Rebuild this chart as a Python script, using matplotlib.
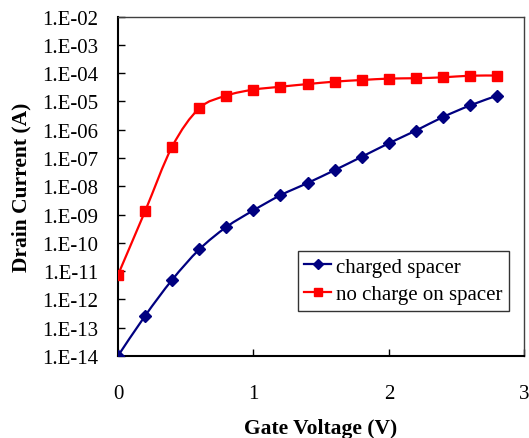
import numpy as np
import matplotlib
matplotlib.use("Agg")
import matplotlib.pyplot as plt
from matplotlib.path import Path
from matplotlib.patches import PathPatch
from matplotlib.lines import Line2D
from matplotlib.ticker import FixedLocator, FuncFormatter, NullLocator

# gate voltage sweep (V)
gate_v = [0.0, 0.2, 0.4, 0.6, 0.8, 1.0, 1.2, 1.4, 1.6, 1.8, 2.0, 2.2, 2.4, 2.6, 2.8]

# drain current (A)
charged_spacer = [1.0e-14, 2.6e-13, 4.9e-12, 5.8e-11, 3.6e-10, 1.4e-9, 4.8e-9,
                  1.3e-8, 3.7e-8, 1.1e-7, 3.3e-7, 9.3e-7, 2.8e-6, 7.2e-6, 1.6e-5]
no_charge = [7.3e-12, 1.3e-9, 2.5e-7, 5.7e-6, 1.6e-5, 2.6e-5, 3.3e-5,
             4.1e-5, 5.0e-5, 5.7e-5, 6.4e-5, 6.6e-5, 7.1e-5, 8.1e-5, 8.2e-5]

labels = ["charged spacer", "no charge on spacer"]
y_ticks = [1e-14, 1e-13, 1e-12, 1e-11, 1e-10, 1e-9, 1e-8, 1e-7,
           1e-6, 1e-5, 1e-4, 1e-3, 1e-2]

plt.rcParams['font.family'] = ['Liberation Serif', 'DejaVu Serif']


def smooth_path(xs, ys):
    # Excel-style smoothed line: cubic bezier through the points, in (x, log y) space
    px = np.asarray(xs, float)
    py = np.log10(np.asarray(ys, float))
    n = len(px)
    verts = [(px[0], py[0])]
    codes = [Path.MOVETO]
    for i in range(n - 1):
        a = max(i - 1, 0)
        b = min(i + 2, n - 1)
        c1 = (px[i] + (px[i + 1] - px[a]) / 6, py[i] + (py[i + 1] - py[a]) / 6)
        c2 = (px[i + 1] - (px[b] - px[i]) / 6, py[i + 1] - (py[b] - py[i]) / 6)
        verts += [c1, c2, (px[i + 1], py[i + 1])]
        codes += [Path.CURVE4] * 3
    verts = [(x, 10 ** y) for x, y in verts]
    return Path(verts, codes)


fig = plt.figure(figsize=(5.29, 4.39), dpi=100)
ax = fig.add_axes([0.223, 0.187, 0.768, 0.773])
ax.set_yscale('log')

series = [
    (charged_spacer, '#000080', 'D', 6.5),
    (no_charge, '#FF0000', 's', 7.5),
]
handles = []
for (vals, col, mk, ms), lab in zip(series, labels):
    ax.add_patch(PathPatch(smooth_path(gate_v, vals), fill=False, edgecolor=col,
                           lw=1.6, zorder=2))
    ax.plot(gate_v, vals, ls='none', marker=mk, ms=ms, color=col, zorder=3)
    handles.append(Line2D([], [], color=col, lw=1.6, marker=mk, ms=ms * 0.85,
                          markevery=[1]))

ax.set_xlim(0, 3)
ax.set_ylim(1e-14, 1e-2)
ax.xaxis.set_major_locator(FixedLocator([0, 1, 2, 3]))
ax.yaxis.set_major_locator(FixedLocator(y_ticks))
ax.yaxis.set_minor_locator(NullLocator())
ax.yaxis.set_major_formatter(FuncFormatter(
    lambda v, p: "1.E%+03d" % int(round(np.log10(v)))))
ax.xaxis.set_major_formatter(FuncFormatter(lambda v, p: "%d" % v))

ax.tick_params(direction='in', length=5, width=1, labelsize=15, colors='black')
ax.tick_params(axis='x', pad=20, top=False)
ax.tick_params(axis='y', pad=14, right=False)

for s in ['left', 'bottom']:
    ax.spines[s].set_linewidth(1.5)
    ax.spines[s].set_color('black')
for s in ['top', 'right']:
    ax.spines[s].set_linewidth(1.0)
    ax.spines[s].set_color('#404040')

ax.set_xlabel("Gate Voltage (V)", fontsize=15.5, fontweight='bold', labelpad=11)
ax.set_ylabel("Drain Current (A)", fontsize=15.5, fontweight='bold', labelpad=8)

# legend
leg = ax.legend(handles, labels, loc='upper left', bbox_to_anchor=(0.443, 0.31),
                fontsize=15, frameon=True, fancybox=False, edgecolor='black',
                handlelength=1.3, handletextpad=0.25, borderpad=0.3,
                labelspacing=0.4, borderaxespad=0)
leg.get_frame().set_linewidth(1.0)

fig.savefig("out.png", dpi=100)
